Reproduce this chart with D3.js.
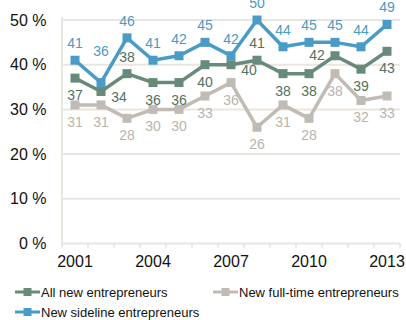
<!DOCTYPE html>
<html>
<head>
<meta charset="utf-8">
<script src="https://cdn.jsdelivr.net/npm/d3@7"></script>
<style>
  html, body { margin: 0; padding: 0; background: #ffffff; }
  svg { display: block; font-family: "Liberation Sans", Arial, sans-serif; }
</style>
</head>
<body>
<svg id="chart" width="406" height="320"></svg>
<script>
// Survey years and shares (%) of each group of new entrepreneurs
const years = [2001, 2002, 2003, 2004, 2005, 2006, 2007, 2008, 2009, 2010, 2011, 2012, 2013];
const allNew = [37, 34, 38, 36, 36, 40, 40, 41, 38, 38, 42, 39, 43];
const fullTime = [31, 31, 28, 30, 30, 33, 36, 26, 31, 28, 38, 32, 33];
const sideline = [41, 36, 46, 41, 42, 45, 42, 50, 44, 45, 45, 44, 49];
const yTicks = [0, 10, 20, 30, 40, 50];
const xLabelYears = [2001, 2004, 2007, 2010, 2013];

// Where each value label sits relative to its marker
const allNewPlace = ["below", "right", "above", "below", "below", "below", "right", "above", "below", "below", "left", "below", "below"];
const fullTimePlace = ["below", "below", "below", "below", "below", "below", "below", "below", "below", "below", "below", "below", "below"];
const sidelinePlace = ["above", "high", "above", "above", "above", "above", "above", "above", "above", "above", "above", "above", "above"];

const series = [
  { name: "All new entrepreneurs", values: allNew, place: allNewPlace, color: "#678a7b", text: "#52725f" },
  { name: "New full-time entrepreneurs", values: fullTime, place: fullTimePlace, color: "#c0bcb5", text: "#b9b5ae" },
  { name: "New sideline entrepreneurs", values: sideline, place: sidelinePlace, color: "#4a9bc5", text: "#4a9bc5" }
];

const svg = d3.select("#chart");
const plotLeft = 62, plotRight = 400, plotTop = 20, plotBottom = 243.5;

const x = d3.scaleBand().domain(years).range([plotLeft, plotRight]).padding(0);
const y = d3.scaleLinear().domain([0, 50]).range([plotBottom, plotTop]);
const cx = d => x(d) + x.bandwidth() / 2;

const gridColor = "#ebe5df";

// Horizontal gridlines
svg.append("g")
  .selectAll("line")
  .data(yTicks.filter(t => t > 0))
  .join("line")
  .attr("x1", plotLeft).attr("x2", plotRight)
  .attr("y1", d => y(d)).attr("y2", d => y(d))
  .attr("stroke", gridColor).attr("stroke-width", 2);

// Vertical axis line
svg.append("line")
  .attr("x1", plotLeft).attr("x2", plotLeft)
  .attr("y1", plotTop - 3).attr("y2", plotBottom)
  .attr("stroke", gridColor).attr("stroke-width", 2);

// Y tick labels
svg.append("g")
  .selectAll("text")
  .data(yTicks)
  .join("text")
  .attr("x", 46.5)
  .attr("y", d => y(d))
  .attr("dy", "0.35em")
  .attr("text-anchor", "end")
  .attr("font-size", 16)
  .attr("fill", "#111")
  .text(d => d + " %");

// X axis with tick marks at every band boundary
const xAxis = d3.axisBottom(x)
  .tickValues(xLabelYears)
  .tickSize(0)
  .tickPadding(12)
  .tickFormat(d3.format("d"));

const gx = svg.append("g")
  .attr("transform", `translate(0,${plotBottom})`)
  .call(xAxis);
gx.select(".domain").attr("stroke", gridColor).attr("stroke-width", 2)
  .attr("d", `M${plotLeft},0H${plotRight}`);
gx.selectAll(".tick text")
  .attr("font-size", 16)
  .attr("fill", "#111")
  .attr("font-family", "Liberation Sans, Arial, sans-serif");

gx.append("g")
  .selectAll("line")
  .data(years.concat([null]))
  .join("line")
  .attr("x1", (d, i) => plotLeft + i * x.step())
  .attr("x2", (d, i) => plotLeft + i * x.step())
  .attr("y1", 0).attr("y2", 4)
  .attr("stroke", gridColor).attr("stroke-width", 2);

// Series lines, markers and value labels
const line = d3.line()
  .x((d, i) => cx(years[i]))
  .y(d => y(d));

const marker = 9;
const offsets = {
  above: [0, -12],
  high: [0, -27],
  below: [0, 22],
  right: [18, 10],
  left: [-18, 4]
};

series.forEach(s => {
  const g = svg.append("g");
  g.append("path")
    .datum(s.values)
    .attr("d", line)
    .attr("fill", "none")
    .attr("stroke", s.color)
    .attr("stroke-width", 3.5)
    .attr("stroke-linejoin", "round");
  g.selectAll("rect")
    .data(s.values)
    .join("rect")
    .attr("x", (d, i) => cx(years[i]) - marker / 2)
    .attr("y", d => y(d) - marker / 2)
    .attr("width", marker).attr("height", marker)
    .attr("fill", s.color);
});

series.forEach(s => {
  svg.append("g")
    .selectAll("text")
    .data(s.values)
    .join("text")
    .attr("x", (d, i) => cx(years[i]) + offsets[s.place[i]][0])
    .attr("y", (d, i) => y(d) + offsets[s.place[i]][1])
    .attr("text-anchor", "middle")
    .attr("font-size", 14)
    .attr("fill", s.text)
    .text(d => d);
});

// Legend
const legendItems = [
  { s: series[0], x: 15, y: 292 },
  { s: series[1], x: 213, y: 292 },
  { s: series[2], x: 15, y: 312 }
];
const lg = svg.append("g");
legendItems.forEach(it => {
  const g = lg.append("g").attr("transform", `translate(${it.x},${it.y})`);
  g.append("line")
    .attr("x1", 0).attr("x2", 25)
    .attr("y1", 0).attr("y2", 0)
    .attr("stroke", it.s.color).attr("stroke-width", 3);
  g.append("rect")
    .attr("x", 12.5 - 4).attr("y", -4)
    .attr("width", 8).attr("height", 8)
    .attr("fill", it.s.color);
  g.append("text")
    .attr("x", 26)
    .attr("y", 0)
    .attr("dy", "0.35em")
    .attr("font-size", 13)
    .attr("fill", "#111")
    .text(it.s.name);
});
</script>
</body>
</html>
